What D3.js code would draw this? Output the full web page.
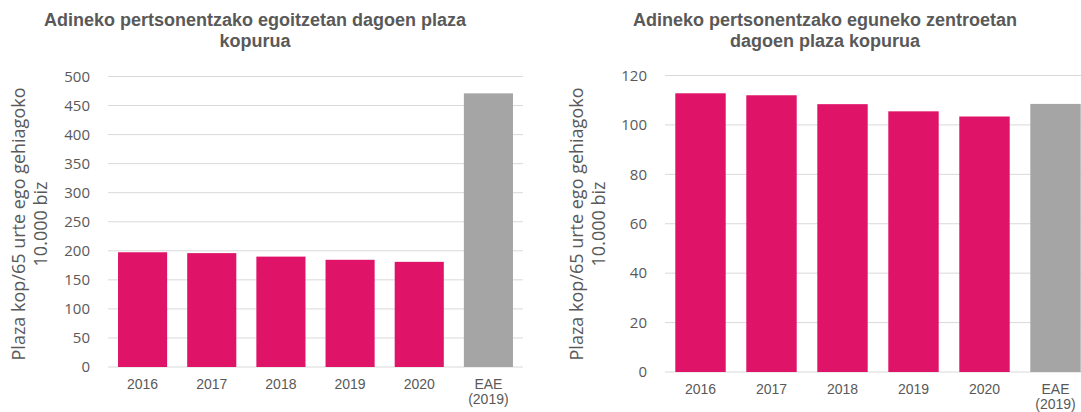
<!DOCTYPE html>
<html>
<head>
<meta charset="utf-8">
<script src="https://cdn.jsdelivr.net/npm/d3@7"></script>
<style>
  body { margin: 0; background: #fff; }
  svg { display: block; }
</style>
</head>
<body>
<svg id="chart" width="1081" height="412"></svg>
<script>
// data
var categories = ["2016", "2017", "2018", "2019", "2020", "EAE (2019)"];
var residenceValues = [197.5, 196, 190, 184.5, 181, 471];
var dayCentreValues = [112.8, 112, 108.4, 105.5, 103.4, 108.5];
var residenceTicks = [0, 50, 100, 150, 200, 250, 300, 350, 400, 450, 500];
var dayCentreTicks = [0, 20, 40, 60, 80, 100, 120];
var yTitle = ["Plaza kop/65 urte ego gehiagoko", "10.000 biz"];

var pink = "#DF1468", grey = "#A5A5A5", textCol = "#595959";
var svg = d3.select("#chart");

function drawPanel(opt) {
    var g = svg.append("g");

    var x = d3.scaleBand()
        .domain(categories)
        .range([opt.x0, opt.x1])
        .paddingInner(0.29)
        .paddingOuter(0.145);

    var y = d3.scaleLinear()
        .domain([0, opt.max])
        .range([opt.y0, opt.y1]);

    // gridlines
    g.selectAll("line.grid")
        .data(opt.ticks)
        .enter()
        .append("line")
        .attr("x1", opt.x0)
        .attr("x2", opt.x1)
        .attr("y1", function(d) { return y(d); })
        .attr("y2", function(d) { return y(d); })
        .attr("stroke", "#D9D9D9")
        .attr("stroke-width", 1);

    // y tick labels
    g.selectAll("text.ytick")
        .data(opt.ticks)
        .enter()
        .append("text")
        .attr("x", opt.x0 - 18)
        .attr("y", function(d) { return y(d); })
        .attr("dy", "0.35em")
        .attr("text-anchor", "end")
        .style("font-family", "'Open Sans', sans-serif")
        .style("font-size", "15px")
        .style("fill", textCol)
        .text(function(d) { return d; });

    // bars
    g.selectAll("rect")
        .data(opt.values)
        .enter()
        .append("rect")
        .attr("x", function(d, i) { return x(categories[i]); })
        .attr("width", x.bandwidth())
        .attr("y", function(d) { return y(d); })
        .attr("height", function(d) { return y(0) - y(d); })
        .attr("fill", function(d, i) { return i == categories.length - 1 ? grey : pink; });

    // x labels
    g.selectAll("text.xtick")
        .data(categories)
        .enter()
        .append("text")
        .attr("text-anchor", "middle")
        .attr("x", function(d) { return x(d) + x.bandwidth() / 2; })
        .attr("y", opt.y0 + 22)
        .style("font-family", "'Liberation Sans', Arial, sans-serif")
        .style("font-size", "14px")
        .style("fill", textCol)
        .each(function(d) {
            var parts = d.split(" ");
            var t = d3.select(this);
            parts.forEach(function(p, k) {
                t.append("tspan")
                    .attr("x", x(d) + x.bandwidth() / 2)
                    .attr("dy", k == 0 ? 0 : 15)
                    .text(p);
            });
        });

    // title
    var title = g.append("text")
        .attr("text-anchor", "middle")
        .attr("y", 26)
        .style("font-family", "'Liberation Sans', Arial, sans-serif")
        .style("font-size", "18px")
        .style("font-weight", "bold")
        .style("fill", textCol);
    opt.title.forEach(function(line, k) {
        title.append("tspan")
            .attr("x", opt.titleX)
            .attr("dy", k == 0 ? 0 : 21)
            .text(line);
    });

    // y axis title
    var yt = g.append("text")
        .attr("text-anchor", "middle")
        .attr("transform", "translate(" + opt.yTitleX + "," + 224 + ") rotate(-90)")
        .style("font-family", "'Open Sans', sans-serif")
        .style("font-size", "18px")
        .style("fill", textCol);
    yTitle.forEach(function(line, k) {
        yt.append("tspan")
            .attr("x", 0)
            .attr("dy", k == 0 ? 0 : 22)
            .text(line);
    });
}

drawPanel({
    x0: 108, x1: 523, y0: 367, y1: 76.5, max: 500,
    ticks: residenceTicks, values: residenceValues,
    title: ["Adineko pertsonentzako egoitzetan dagoen plaza", "kopurua"],
    titleX: 255, yTitleX: 25
});

drawPanel({
    x0: 665, x1: 1091, y0: 372, y1: 75.5, max: 120,
    ticks: dayCentreTicks, values: dayCentreValues,
    title: ["Adineko pertsonentzako eguneko zentroetan", "dagoen plaza kopurua"],
    titleX: 825, yTitleX: 583
});
</script>
</body>
</html>
